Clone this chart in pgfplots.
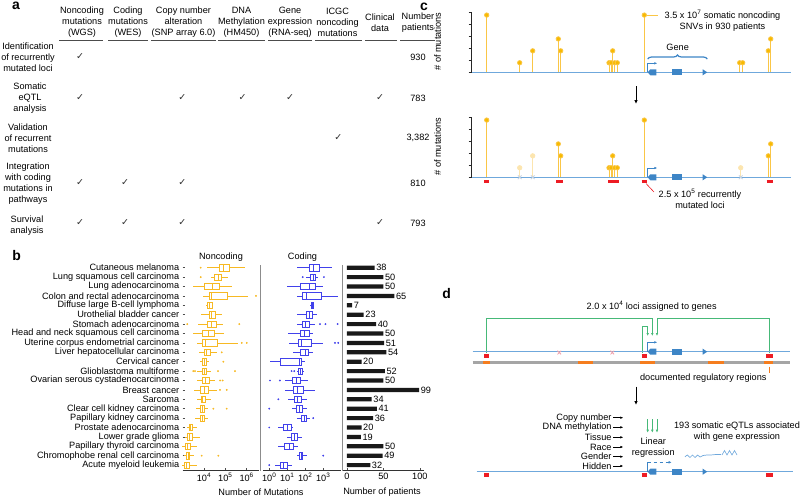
\documentclass[border=0pt]{standalone}
\usepackage{pgfplots}
\pgfplotsset{compat=1.18}
\usepackage{pgfplotstable}
\usepgfplotslibrary{statistics}
\usetikzlibrary{arrows.meta,decorations.pathreplacing}
\usepackage{fontspec}
\setmainfont{Liberation Sans}
\newfontfamily\dejavu{DejaVu Sans}
\newcommand\fs{\fontsize{9.2}{11}\selectfont}
\definecolor{nc}{RGB}{247,185,35}
\definecolor{cod}{RGB}{65,65,235}
\definecolor{barc}{RGB}{25,25,25}
\definecolor{sep}{RGB}{140,140,140}
\definecolor{lolli}{RGB}{248,186,0}
\definecolor{stem}{RGB}{250,198,70}
\definecolor{faded}{RGB}{252,229,175}
\definecolor{lblue}{RGB}{111,168,220}
\definecolor{gblue}{RGB}{61,133,198}
\definecolor{locired}{RGB}{237,28,36}
\definecolor{grn}{RGB}{70,185,120}
\definecolor{org}{RGB}{245,125,30}
\definecolor{gbar}{RGB}{165,165,165}
\definecolor{xcol}{RGB}{200,212,226}
\definecolor{pinkx}{RGB}{240,160,170}
\definecolor{ckgray}{RGB}{50,50,50}

% noncoding mutation box statistics (rows in figure order, top first)
\pgfplotstableread{
lw q1 med q3 uw
13400 50600 84100 154000 841000
21400 31000 45400 63000 138000
2900 10000 24500 52000 213000
9300 17200 21300 124000 1200000
12400 14300 18500 23800 27400
7000 17200 23000 35400 67800
5400 14300 23000 36600 80500
3150 8300 15900 29400 86900
4840 8300 12000 42100 407000
6000 10300 13400 19100 39400
6500 8000 10300 13400 17700
4540 8300 10000 13400 20700
4540 8700 12000 17200 32800
3400 6500 10000 15900 39400
4540 7200 8700 11100 20700
4070 6500 8000 10300 15900
3780 6500 8000 10300 15900
1540 1980 2380 2940 4540
1280 1720 2040 2830 6500
900 1380 1720 2380 4540
1190 1540 1770 2040 3400
900 1190 1540 2040 4540
}\nctab
\pgfplotstableread{
v r
7000 1
7000 2
2760000 4
1640 7
454000 7
589000 9
1010000 9
67800 10
80500 11
3150 12
3780 12
45400 12
285000 12
56400 13
75500 13
56400 14
116000 14
27400 16
116000 16
7800 21
46900 21
}\ncout
% coding mutation box statistics
\pgfplotstableread{
lw q1 med q3 uw
33 167 278 600 2930
109 200 278 378 527
9.3 55 167 346 1000
33 68 120 815 6810
182 207 245 278 316
33 109 167 258 430
33 72 105 167 346
11.4 55 88 167 278
12.4 41 63 227 1000
21.5 55 96 147 278
1.1 4.3 45 63 96
33 43 55 72 77
7.4 19 30 51 136
7.4 21.5 38 77 346
11.4 24.5 38 63 120
19 33 46 68 120
36 63 88 120 182
3.2 6 10 17.5 21.5
9.3 16 24.5 38 63
3.2 6.8 12.4 21.5 41
33 46 58 72 120
2.1 3.9 6 10 17.5
}\codtab
\pgfplotstableread{
v r
72 2
1090 2
656 7
1325 7
6310 7
4470 9
6810 9
17.5 12
24.5 12
1.1 13
3.9 13
3.2 15
1 16
278 17
1 18
1000 21
1 22
}\codout
\pgfplotstableread{
r n
1 38
2 50
3 50
4 65
5 7
6 23
7 40
8 50
9 51
10 54
11 20
12 52
13 50
14 99
15 34
16 41
17 36
18 20
19 19
20 50
21 49
22 32
}\bartab

\newcommand\boxrow[3]{%
  \pgfplotstablegetelem{#2}{lw}\of#1\let\vlw\pgfplotsretval
  \pgfplotstablegetelem{#2}{q1}\of#1\let\vqa\pgfplotsretval
  \pgfplotstablegetelem{#2}{med}\of#1\let\vmed\pgfplotsretval
  \pgfplotstablegetelem{#2}{q3}\of#1\let\vqb\pgfplotsretval
  \pgfplotstablegetelem{#2}{uw}\of#1\let\vuw\pgfplotsretval
  \pgfmathtruncatemacro\vpos{22-#2}%
  \edef\tempbox{\noexpand\addplot[#3, line width=0.6pt, boxplot prepared={draw position=\vpos, lower whisker=\vlw, lower quartile=\vqa, median=\vmed, upper quartile=\vqb, upper whisker=\vuw, box extend=0.7, whisker extend=0}] coordinates {};}%
  \tempbox
}

\pgfplotsset{
  /pgf/number format/assume math mode=true,
  rowaxis/.style={scale only axis, anchor=north west, height=206.8bp,
    ymin=0.5, ymax=22.5, axis lines*=left,
    y axis line style={draw=none}, x axis line style={draw=black!80, line width=0.5pt},
    tick align=inside, major tick length=2bp, tick style={black!70, line width=0.5pt},
    ticklabel style={font=\fs}, clip=false},
  lolliaxis/.style={scale only axis, anchor=south west, width=319bp, height=59.6bp,
    xmin=0, xmax=319, ymin=0, ymax=5, axis lines*=left,
    x axis line style={draw=lblue, line width=1.3pt}, y axis line style={draw=black!85, line width=0.6pt},
    xtick=\empty, ytick={0,...,5}, yticklabels={}, tick align=outside, major tick length=3bp,
    tick style={black!85, line width=0.6pt}, clip=false},
}
\tikzset{blk/.style={-{Latex[length=4bp,width=3.5bp]}, line width=0.8pt},
  sarr/.style={-{Latex[length=3bp,width=2.6bp]}, line width=0.6pt}}

\newcommand\genepart[1]{%
  \fill[gblue] (647.7,#1) -- (650.3,{#1-3}) -- (656.3,{#1-3}) -- (656.3,{#1+3}) -- (650.3,{#1+3}) -- cycle;
  \fill[gblue] (671.7,{#1-3}) rectangle (682.3,{#1+3});
  \fill[gblue] (702.7,{#1-3}) -- (707.3,#1) -- (702.7,{#1+3}) -- cycle;
}

\begin{document}
\begin{tikzpicture}
\useasboundingbox (0,0) rectangle (800bp,-498bp);

% ================= panel b : noncoding
\begin{axis}[rowaxis, at={(182.7bp,-263bp)}, width=76.3bp, xmode=log, xmin=1000, xmax=3.8e6,
  xtick={1e4,1e5,1e6}, xticklabels={10\textsuperscript{4},10\textsuperscript{5},10\textsuperscript{6}},
  xminorticks=false, ytick={1,...,22},
  yticklabels={Acute myeloid leukemia,Chromophobe renal cell carcinoma,Papillary thyroid carcinoma,Lower grade glioma,Prostate adenocarcinoma,Papillary kidney carcinoma,Clear cell kidney carcinoma,Sarcoma,Breast cancer,Ovarian serous cystadenocarcinoma,Glioblastoma multiforme,Cervical cancer,Liver hepatocellular carcinoma,Uterine corpus endometrial carcinoma,Head and neck squamous cell carcinoma,Stomach adenocarcinoma,Urothelial bladder cancer,Diffuse large B-cell lymphoma,Colon and rectal adenocarcinoma,Lung adenocarcinoma,Lung squamous cell carcinoma,Cutaneous melanoma},
  boxplot/draw direction=x]
\pgfplotsinvokeforeach{0,...,21}{\boxrow{\nctab}{#1}{nc}}
\addplot[only marks, mark=*, mark size=0.7bp, nc] table[x=v, y expr={23-\thisrow{r}}] {\ncout};
\end{axis}

% ================= panel b : coding
\begin{axis}[rowaxis, at={(263bp,-263bp)}, width=77.9bp, xmode=log, xmin=0.45, xmax=9600,
  xtick={1,10,100,1000}, xticklabels={10\textsuperscript{0},10\textsuperscript{1},10\textsuperscript{2},10\textsuperscript{3}},
  xminorticks=false, ytick=\empty, boxplot/draw direction=x]
\pgfplotsinvokeforeach{0,...,21}{\boxrow{\codtab}{#1}{cod}}
\addplot[only marks, mark=*, mark size=0.7bp, cod] table[x=v, y expr={23-\thisrow{r}}] {\codout};
\end{axis}

% ================= panel b : patients
\begin{axis}[rowaxis, at={(343bp,-263bp)}, width=81.2bp, xmin=-5.44, xmax=106,
  xtick={0,50,100}, xticklabels={0,50,100}, ytick=\empty]
\addplot[xbar, bar width=4.2bp, fill=barc, draw=none, point meta=explicit symbolic, nodes near coords,
  nodes near coords style={font=\fs, inner sep=1.5bp, text=black, anchor=west}] table[x=n, y expr={23-\thisrow{r}}, meta=n] {\bartab};
\end{axis}

% ================= panel c : top lollipops
\begin{axis}[lolliaxis, at={(471.7bp,-72.3bp)}]
\addplot[ycomb, stem, line width=0.8pt, mark=*, mark size=2.2bp, mark options={fill=lolli, draw=none}]
  coordinates {(15,4.8) (48,0.8) (61,1.8) (86.6,2.8) (89,1.8) (137.3,0.8) (139.3,0.8) (143,0.8) (145.6,0.8) (141,1.8) (172.6,4.8) (268,0.8) (271,0.8) (296.6,1.8) (299,2.8)};
\end{axis}

% ================= panel c : bottom lollipops
\begin{axis}[lolliaxis, at={(471.7bp,-177.3bp)}]
\addplot[ycomb, faded, line width=0.8pt, mark=*, mark size=2.2bp, mark options={fill=faded, draw=none}]
  coordinates {(48,0.8) (61,1.8) (269,0.8)};
\addplot[only marks, mark=x, mark size=2.6bp, xcol, line width=0.9pt] coordinates {(48,0) (61,0) (269,0)};
\addplot[ycomb, stem, line width=0.8pt, mark=*, mark size=2.2bp, mark options={fill=lolli, draw=none}]
  coordinates {(15,4.8) (86.6,2.8) (89,1.8) (137.3,0.8) (139.3,0.8) (143,0.8) (145.6,0.8) (141,1.8) (172.6,4.8) (296.6,1.8) (299,2.8)};
\addplot[locired, line width=3.2bp, unbounded coords=jump] coordinates {(12.6,-0.33) (17.3,-0.33) (nan,nan) (84.3,-0.33) (91,-0.33) (nan,nan) (136.6,-0.33) (147.3,-0.33) (nan,nan) (170,-0.33) (175,-0.33) (nan,nan) (295,-0.33) (301,-0.33)};
\end{axis}

% ================= drawings (pixel coordinates, y downwards)
\begin{scope}[x=1bp, y=-1bp, every node/.style={font=\fs, inner sep=0pt}]
% panel letters
\node[anchor=base, font=\fontsize{14}{16}\selectfont\bfseries] at (16,9.5) {a};
\node[anchor=base, font=\fontsize{14}{16}\selectfont\bfseries] at (16.7,260) {b};
\node[anchor=base, font=\fontsize{14}{16}\selectfont\bfseries] at (424,10) {c};
\node[anchor=base, font=\fontsize{14}{16}\selectfont\bfseries] at (446.7,298.3) {d};

% ---- panel a
\begin{scope}[every node/.style={font=\fs, align=center, inner sep=0pt}]
\node at (82,22) {Noncoding\\mutations\\(WGS)};
\node at (128,22) {Coding\\mutations\\(WES)};
\node at (183.5,22) {Copy number\\alteration\\(SNP array 6.0)};
\node at (241.5,22) {DNA\\Methylation\\(HM450)};
\node at (290,22) {Gene\\expression\\(RNA-seq)};
\node at (337.5,22) {ICGC\\noncoding\\mutations};
\node at (380,22.5) {Clinical\\data};
\node at (418,22.5) {Number\\patients};
\node at (28,57) {Identification\\of recurrently\\mutated loci};
\node at (30,98) {Somatic\\eQTL\\analysis};
\node at (28,138) {Validation\\of recurrent\\mutations};
\node at (28,184) {Integration\\with coding\\mutations in\\pathways};
\node at (27,225.5) {Survival\\analysis};
\node at (418,57) {930};
\node at (418,98) {783};
\node at (418,138) {3,382};
\node at (418,183) {810};
\node at (418,223) {793};
\end{scope}
\foreach \a/\b in {59/103,108/148,151/216,218/265,268/312,315/362,365/397,400/435}
  \draw[black!70, line width=0.6pt] (\a,40) -- (\b,40);
\foreach \x/\y in {80/57, 80/98,182.3/98,242.7/98,290/98,380/98, 338.3/138, 80/183,125/183,182.3/183, 80/223,125/223,182.3/223,380/223}
  \node[text=ckgray, font=\dejavu\fontsize{9.5}{10}\selectfont] at (\x,\y) {✓};

% ---- panel b extras
\draw[sep, line width=0.7pt] (260,265) -- (260,471);
\draw[sep, line width=0.7pt] (342.7,265) -- (342.7,471);
\node at (221,257) {Noncoding};
\node at (302.5,257) {Coding};
\node at (261,492) {Number of Mutations};
\node at (382,492) {Number of patients};

% ---- panel c extras
\node[rotate=90] at (437.5,41.7) {\# of mutations};
\node[rotate=90] at (437.5,146.7) {\# of mutations};
\genepart{72.3}
\genepart{177.3}
\draw[gblue, sarr] (647.7,72.3) -- (647.7,63.3) -- (657.3,63.3);
\draw[gblue, sarr] (647.7,177.3) -- (647.7,168) -- (657.3,168);
\draw[gblue, line width=1.2pt, decorate, decoration={brace, amplitude=4bp}] (647.7,59) -- (707.3,59);
\node at (677.7,47.7) {Gene};
\draw[stem, line width=0.8pt] (647,15) -- (658,15);
\node[align=center] at (722.5,20.5) {3.5 x 10\textsuperscript{7} somatic noncoding\\SNVs in 930 patients};
\draw[blk] (636,86) -- (636,104);
\draw[locired, line width=0.6pt] (646,183.5) -- (654,192);
\node[align=center] at (700,199) {2.5 x 10\textsuperscript{5} recurrently\\mutated loci};

% ---- panel d drawing
\node at (651.7,306) {2.0 x 10\textsuperscript{4} loci assigned to genes};
\draw[grn, line width=0.9pt] (486,353) |- (652.3,318.3);
\draw[grn, line width=0.9pt, sarr] (652.3,318.3) -- (652.3,336);
\draw[grn, line width=0.9pt] (769.3,353) |- (657,318.3);
\draw[grn, line width=0.9pt, sarr] (657,318.3) -- (657,336);
\draw[grn, line width=0.9pt] (642.7,353) |- (647.7,326);
\draw[grn, line width=0.9pt, sarr] (647.7,326) -- (647.7,336);
\draw[lblue, line width=1.3pt] (472.7,351.7) -- (790,351.7);
\genepart{351.7}
\draw[gblue, sarr] (647.7,351.7) -- (647.7,342.3) -- (657.3,342.3);
\draw[org, line width=0.6pt] (769.3,366.5) -- (769.3,372.5);
\node at (703.3,378.3) {documented regulatory regions};
\draw[blk] (636,386.7) -- (636,405);
\foreach \t/\y in {Copy number/417.7, DNA methylation/427.3, Tissue/437.3, Race/447, Gender/456.7, Hidden/466}{
  \node[anchor=east] at (611.7,\y) {\t};
  \draw[sarr] (613,\y) -- (623.3,\y);
}
\foreach \x in {647.7,652.3,657}
  \draw[grn, sarr] (\x,419.3) -- (\x,432.7);
\node[align=center] at (737,431.7) {193 somatic eQTLs associated\\with gene expression};
\node[align=center] at (653.3,448) {Linear\\regression};
\draw[lblue, line width=0.7pt] plot[smooth, tension=0.6] coordinates {(685,457)(687.5,455)(690,457.5)(692.5,455)(695,457.5)(697.5,455)(700,457)(703,455.5)(707,455)(711,455)(716,454.5)(721,454.5)};
\draw[lblue, line width=0.6pt] (722,455)--(724.5,450.5)--(727,455)--(729.5,450.5)--(732,455)--(734.5,450.5)--(737,455);
\draw[lblue, line width=1.3pt] (476.7,471.7) -- (793.3,471.7);
\genepart{471.7}
\draw[gblue, line width=0.6pt] (647.7,471.7) -- (647.7,462.3);
\draw[gblue, sarr, dashed] (647.7,462.3) -- (671.7,462.3);
\end{scope}

% ================= panel d data-like marks (pixel axis)
\begin{axis}[at={(0bp,0bp)}, anchor=north west, scale only axis, width=800bp, height=498bp,
  xmin=0, xmax=800, ymin=0, ymax=498, y dir=reverse, hide axis, clip=false, unbounded coords=jump]
\addplot[gbar, line width=3.3bp] coordinates {(472.7,362.7) (790,362.7)};
\addplot[org, line width=3.3bp] coordinates {(483.3,362.7) (490,362.7) (nan,nan) (578.3,362.7) (593.3,362.7) (nan,nan) (640,362.7) (655,362.7) (nan,nan) (708.3,362.7) (724,362.7) (nan,nan) (764.3,362.7) (773.3,362.7)};
\addplot[locired, line width=3.5bp] coordinates {(484,355.8) (488.6,355.8) (nan,nan) (641.7,355.8) (646.7,355.8) (nan,nan) (766,355.8) (772.7,355.8)};
\addplot[locired, line width=3.4bp] coordinates {(484.3,475) (488.6,475) (nan,nan) (641.7,475) (646.7,475) (nan,nan) (766,475) (772.7,475)};
\addplot[only marks, mark=x, mark size=2.6bp, pinkx, line width=0.8pt] coordinates {(559.3,352.5) (612.3,352.5)};
\end{axis}
\end{tikzpicture}
\end{document}
